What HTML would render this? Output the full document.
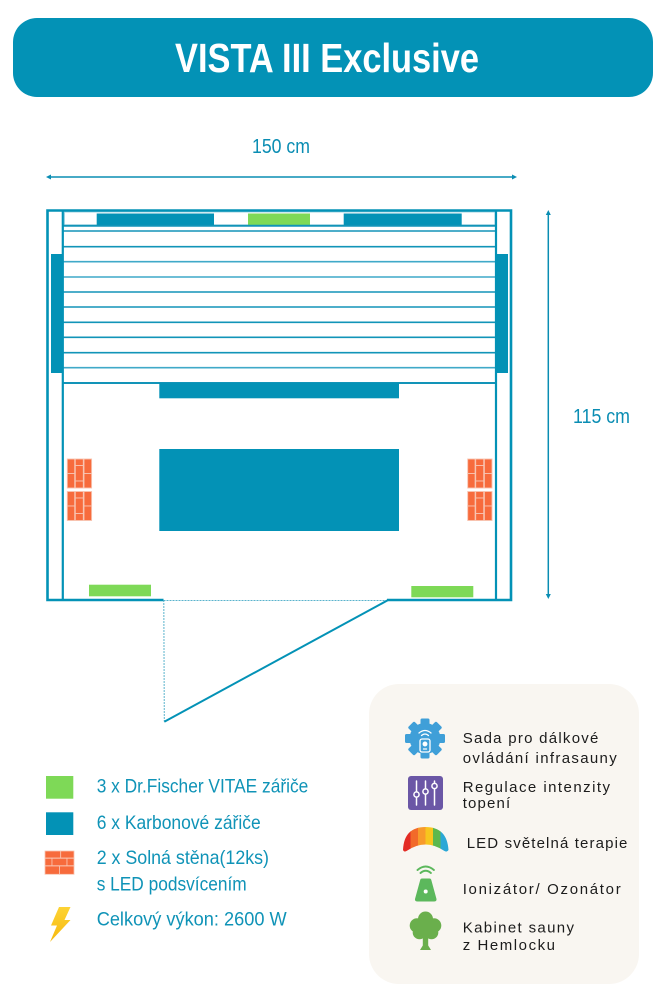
<!DOCTYPE html>
<html>
<head>
<meta charset="utf-8">
<style>
html,body{margin:0;padding:0;background:#fff;}
svg{display:block;}
text{font-family:"Liberation Sans",sans-serif;}
</style>
</head>
<body>
<svg width="666" height="1000" viewBox="0 0 666 1000" xmlns="http://www.w3.org/2000/svg">
  <!-- Header -->
  <rect x="13" y="18" width="640" height="79" rx="24" fill="#0392b6"/>
  <text x="327" y="72" text-anchor="middle" font-size="41" font-weight="bold" fill="#fff" textLength="304" lengthAdjust="spacingAndGlyphs">VISTA III Exclusive</text>

  <!-- Width dimension -->
  <text x="281" y="153" text-anchor="middle" font-size="20" fill="#0a8db3" textLength="58" lengthAdjust="spacingAndGlyphs">150 cm</text>
  <line x1="49" y1="177" x2="514" y2="177" stroke="#0a8db3" stroke-width="1.5"/>
  <path d="M46,177 L51,174.5 L51,179.5 Z" fill="#0a8db3"/>
  <path d="M517,177 L512,174.5 L512,179.5 Z" fill="#0a8db3"/>

  <!-- Height dimension -->
  <line x1="548.3" y1="213" x2="548.3" y2="596" stroke="#0a8db3" stroke-width="1.5"/>
  <path d="M548.3,210 L545.8,215 L550.8,215 Z" fill="#0a8db3"/>
  <path d="M548.3,599 L545.8,594 L550.8,594 Z" fill="#0a8db3"/>
  <text x="573" y="423" font-size="20" fill="#0a8db3" textLength="57" lengthAdjust="spacingAndGlyphs">115 cm</text>

  <!-- Floor plan -->
  <rect x="64.5" y="212" width="430.5" height="13" fill="none" stroke="#9fd3e2" stroke-width="1"/>
  <rect x="96.7" y="213.5" width="117.3" height="12" fill="#0392b6"/>
  <rect x="248" y="213.5" width="62" height="11.5" fill="#7ed957"/>
  <rect x="343.7" y="213.5" width="118" height="12" fill="#0392b6"/>

  <g stroke="#1294b8" stroke-width="1.6">
    <line x1="62" y1="225.8" x2="496" y2="225.8" stroke-width="2"/>
    <line x1="62" y1="231" x2="496" y2="231"/>
    <line x1="62" y1="246.7" x2="496" y2="246.7"/>
    <line x1="62" y1="261.7" x2="496" y2="261.7" stroke="#3fa9c8"/>
    <line x1="62" y1="277" x2="496" y2="277" stroke="#3fa9c8"/>
    <line x1="62" y1="292" x2="496" y2="292"/>
    <line x1="62" y1="307" x2="496" y2="307"/>
    <line x1="62" y1="322.3" x2="496" y2="322.3"/>
    <line x1="62" y1="337.3" x2="496" y2="337.3"/>
    <line x1="62" y1="352.7" x2="496" y2="352.7"/>
    <line x1="62" y1="367.7" x2="496" y2="367.7" stroke="#3fa9c8"/>
    <line x1="62" y1="383" x2="496" y2="383" stroke-width="2"/>
  </g>

  <rect x="51" y="254" width="11.7" height="119" fill="#0392b6"/>
  <rect x="496" y="254" width="12" height="119" fill="#0392b6"/>

  <rect x="159.3" y="383" width="239.7" height="15.3" fill="#0392b6"/>
  <rect x="159.3" y="449" width="239.7" height="82" fill="#0392b6"/>

  <path d="M163.5,600 H47.5 V210.5 H511 V600 H387" fill="none" stroke="#0392b6" stroke-width="2.6"/>
  <line x1="62.8" y1="210" x2="62.8" y2="600" stroke="#0392b6" stroke-width="2.2"/>
  <line x1="496" y1="210" x2="496" y2="600" stroke="#0392b6" stroke-width="2.2"/>

  <rect x="89" y="584.7" width="62" height="11.6" fill="#7ed957"/>
  <rect x="411.3" y="586" width="62" height="11.3" fill="#7ed957"/>

  <line x1="163.5" y1="600.5" x2="387.5" y2="600.5" stroke="#5ab3cc" stroke-width="1" stroke-dasharray="2,1"/>
  <line x1="163.8" y1="600" x2="164.3" y2="721.5" stroke="#5ab3cc" stroke-width="1" stroke-dasharray="2,1"/>
  <line x1="387.7" y1="600.3" x2="164.3" y2="721.7" stroke="#0392b6" stroke-width="2"/>

  <defs>
    <g id="brk">
      <rect x="0" y="0" width="7.4" height="14.5"/>
      <rect x="0" y="14.5" width="7.4" height="14.5"/>
      <rect x="8" y="0" width="8" height="6.5"/>
      <rect x="8" y="6.5" width="8" height="15.5"/>
      <rect x="8" y="22" width="8" height="7"/>
      <rect x="16.7" y="0" width="7.6" height="14.5"/>
      <rect x="16.7" y="14.5" width="7.6" height="14.5"/>
    </g>
  </defs>
  <g fill="#f76b3c" stroke="#f8c4b0" stroke-width="0.9">
    <use href="#brk" x="67.3" y="459"/>
    <use href="#brk" x="67.3" y="491.5"/>
    <use href="#brk" x="467.7" y="459"/>
    <use href="#brk" x="467.7" y="491.5"/>
  </g>

  <!-- Left legend -->
  <rect x="46" y="776" width="27.3" height="22.7" fill="#7ed957"/>
  <text x="96.7" y="792.3" font-size="19.5" fill="#0f93b7" textLength="211.6" lengthAdjust="spacingAndGlyphs">3 x Dr.Fischer VITAE zářiče</text>
  <rect x="46" y="812.3" width="27.3" height="22.7" fill="#0392b6"/>
  <text x="96.7" y="829" font-size="19.5" fill="#0f93b7" textLength="164" lengthAdjust="spacingAndGlyphs">6 x Karbonové zářiče</text>
  <g fill="#f76b3c" stroke="#f8c4b0" stroke-width="0.8">
    <rect x="45" y="851" width="15.7" height="7"/>
    <rect x="60.7" y="851" width="13.3" height="7"/>
    <rect x="45" y="858.3" width="7" height="7.4"/>
    <rect x="52" y="858.3" width="15" height="7.4"/>
    <rect x="67" y="858.3" width="7" height="7.4"/>
    <rect x="45" y="866" width="14.5" height="8.3"/>
    <rect x="59.5" y="866" width="14.5" height="8.3"/>
  </g>
  <text x="96.7" y="864" font-size="19.5" fill="#0f93b7" textLength="172.3" lengthAdjust="spacingAndGlyphs">2 x Solná stěna(12ks)</text>
  <text x="96.7" y="890.7" font-size="19.5" fill="#0f93b7" textLength="150" lengthAdjust="spacingAndGlyphs">s LED podsvícením</text>
  <defs>
    <linearGradient id="bolt" x1="0" y1="0" x2="0" y2="1">
      <stop offset="0" stop-color="#fdd335"/>
      <stop offset="1" stop-color="#f6b90f"/>
    </linearGradient>
  </defs>
  <path d="M59,907 L70.5,907 L64.5,920 L70.5,920 L50,942 L57,925.5 L51,925.5 Z" fill="url(#bolt)"/>
  <text x="96.7" y="925.7" font-size="19.5" fill="#0f93b7" textLength="190" lengthAdjust="spacingAndGlyphs">Celkový výkon: 2600 W</text>

  <!-- Right legend box -->
  <rect x="369" y="684" width="270" height="300" rx="30" fill="#f9f6f1"/>

  <!-- gear icon -->
  <g fill="#3f9fd8" transform="translate(425,738.5)">
    <circle r="15.5"/>
    <rect x="-4.5" y="-20" width="9" height="8" rx="1.5"/>
    <rect x="-4.5" y="-20" width="9" height="8" rx="1.5" transform="rotate(45)"/>
    <rect x="-4.5" y="-20" width="9" height="8" rx="1.5" transform="rotate(90)"/>
    <rect x="-4.5" y="-20" width="9" height="8" rx="1.5" transform="rotate(135)"/>
    <rect x="-4.5" y="-20" width="9" height="8" rx="1.5" transform="rotate(180)"/>
    <rect x="-4.5" y="-20" width="9" height="8" rx="1.5" transform="rotate(225)"/>
    <rect x="-4.5" y="-20" width="9" height="8" rx="1.5" transform="rotate(270)"/>
    <rect x="-4.5" y="-20" width="9" height="8" rx="1.5" transform="rotate(315)"/>
  </g>
  <g fill="none" stroke="#fff" stroke-width="1.3" stroke-linecap="round">
    <rect x="420" y="739" width="10" height="13" rx="2"/>
    <circle cx="425" cy="744" r="1.8" fill="#fff"/>
    <line x1="423.5" y1="749" x2="426.5" y2="749"/>
    <path d="M421.5,735.5 Q425,732.5 428.5,735.5"/>
    <path d="M419,733 Q425,728 431,733"/>
  </g>

  <!-- purple sliders -->
  <rect x="408" y="776" width="35" height="34" rx="3" fill="#6b57a6"/>
  <g stroke="#fff" stroke-width="1.5" stroke-linecap="round" fill="#6b57a6">
    <line x1="416.5" y1="781" x2="416.5" y2="805"/>
    <line x1="425.5" y1="781" x2="425.5" y2="805"/>
    <line x1="434.5" y1="781" x2="434.5" y2="805"/>
    <circle cx="416.5" cy="794.5" r="2.6"/>
    <circle cx="425.5" cy="791.5" r="2.6"/>
    <circle cx="434.5" cy="786" r="2.6"/>
  </g>

  <!-- rainbow -->
  <defs>
    <clipPath id="rb">
      <path d="M403,850 Q404,827 425.5,827 Q447,827 448.5,850 Q447,852.5 444.5,851 Q425.5,838 406.5,851 Q404,852.5 403,850 Z"/>
    </clipPath>
  </defs>
  <g clip-path="url(#rb)">
    <rect x="402" y="825" width="9" height="30" fill="#e32b24"/>
    <rect x="410.5" y="825" width="7.6" height="30" fill="#f26a2a"/>
    <rect x="418" y="825" width="7.6" height="30" fill="#f89a2b"/>
    <rect x="425.5" y="825" width="7.6" height="30" fill="#f7c51e"/>
    <rect x="433" y="825" width="7.6" height="30" fill="#5cb84d"/>
    <rect x="440.5" y="825" width="9" height="30" fill="#2aa7d6"/>
  </g>

  <!-- ionizer -->
  <g fill="none" stroke="#5cb85c" stroke-width="2" stroke-linecap="round">
    <path d="M420.5,873 Q425.7,868.5 430.9,873"/>
    <path d="M417.5,870 Q425.7,863 433.9,870"/>
  </g>
  <path d="M422,878.5 L429.5,878.5 Q431,878.5 431.3,880 L436.5,899 Q436.8,901.5 434,901.5 L417.5,901.5 Q414.7,901.5 415,899 L420.2,880 Q420.5,878.5 422,878.5 Z" fill="#5cb85c"/>
  <circle cx="425.7" cy="891.5" r="2" fill="#fff"/>

  <!-- tree -->
  <g fill="#6aaf4c">
    <circle cx="425.5" cy="919" r="7.5"/>
    <circle cx="417" cy="925.5" r="7.3"/>
    <circle cx="434" cy="925.5" r="7.3"/>
    <circle cx="419.5" cy="932.5" r="6.8"/>
    <circle cx="431.5" cy="932.5" r="6.8"/>
    <circle cx="425.5" cy="927.5" r="8.5"/>
    <path d="M422.8,935 L428.2,935 L428.2,945.5 L431,950 L420,950 L422.8,945.5 Z"/>
  </g>

  <!-- right legend text -->
  <g font-size="15" fill="#1c1c1c">
    <text x="462.7" y="743" textLength="135.7" lengthAdjust="spacing">Sada pro dálkové</text>
    <text x="462.7" y="763" textLength="154" lengthAdjust="spacing">ovládání infrasauny</text>
    <text x="462.7" y="792" textLength="147.3" lengthAdjust="spacing">Regulace intenzity</text>
    <text x="462.7" y="808" textLength="47.5" lengthAdjust="spacing">topení</text>
    <text x="466.7" y="848" textLength="160.7" lengthAdjust="spacing">LED světelná terapie</text>
    <text x="462.7" y="894" textLength="158" lengthAdjust="spacing">Ionizátor/ Ozonátor</text>
    <text x="462.7" y="932.3" textLength="111.3" lengthAdjust="spacing">Kabinet sauny</text>
    <text x="462.7" y="950" textLength="92.3" lengthAdjust="spacing">z Hemlocku</text>
  </g>
</svg>
</body>
</html>
